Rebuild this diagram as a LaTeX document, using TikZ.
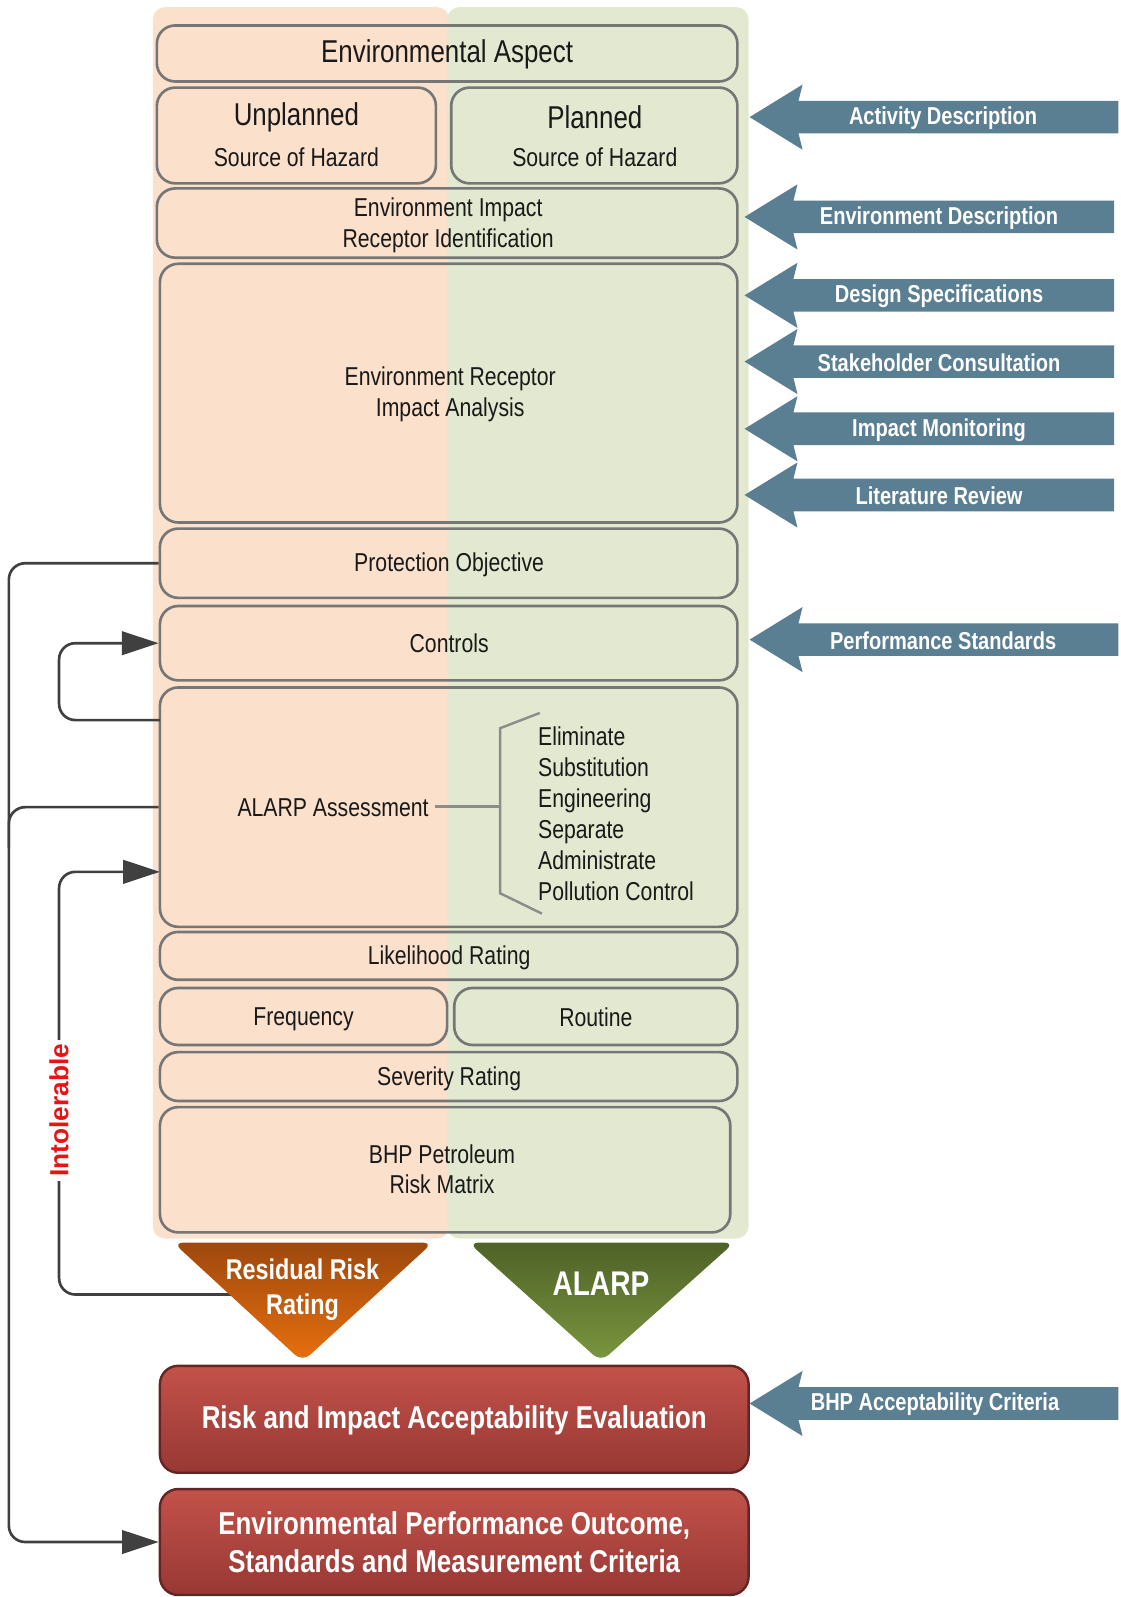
\documentclass[tikz,border=0pt]{standalone}
\usepackage{fontspec}
\setmainfont[FakeStretch=0.82]{Liberation Sans}
\newfontfamily\plainsans{Liberation Sans}
\usetikzlibrary{fit,arrows.meta,calc}
\definecolor{panelO}{RGB}{251,224,204}
\definecolor{panelG}{RGB}{226,233,208}
\definecolor{boxgray}{RGB}{118,118,118}
\definecolor{conngray}{RGB}{64,64,64}
\definecolor{arrblue}{RGB}{90,126,146}
\definecolor{redA}{RGB}{194,82,74}
\definecolor{redB}{RGB}{152,56,52}
\definecolor{redEdge}{RGB}{100,38,36}
\definecolor{orA}{RGB}{158,72,14}
\definecolor{orB}{RGB}{232,112,14}
\definecolor{grA}{RGB}{79,98,40}
\definecolor{grB}{RGB}{122,150,62}
\definecolor{brkcol}{RGB}{140,140,140}
\definecolor{intolred}{RGB}{232,20,20}
\newcommand\bluearrow[6]{%
  \fill[arrblue] (#2,#3) -- (#2+52,#3-32) -- (#2+48,#3-16) -- (#4,#3-16) -- (#4,#3+16) -- (#2+48,#3+16) -- (#2+52,#3+32) -- cycle;
  \node[arrtxt] (#1) at (#5,#3+1) {#6};}
\begin{document}
\begin{tikzpicture}[x=0.5pt,y=-0.5pt,
  box/.style={draw=boxgray, line width=1.3pt, rounded corners=9pt, inner sep=0pt},
  txt/.style={font=\fontsize{12.7}{15.2}\selectfont, align=center, inner sep=0pt, text=black!90},
  bigtxt/.style={font=\fontsize{15.5}{18}\selectfont, align=center, inner sep=0pt, text=black!90},
  redbox/.style={draw=redEdge, line width=1.2pt, rounded corners=9pt, inner sep=0pt, top color=redA, bottom color=redB},
  redtxt/.style={font=\bfseries\fontsize{15.5}{18.5}\selectfont, text=white, align=center, inner sep=0pt},
  tritxt/.style={font=\bfseries\fontsize{14}{17}\selectfont, text=white, align=center, inner sep=0pt},
  arrtxt/.style={font=\bfseries\fontsize{12}{14}\selectfont, text=white, inner sep=0pt},
  conn/.style={draw=conngray, line width=1.3pt, rounded corners=8pt},
  conntip/.style={-{Triangle[length=18pt,width=11.5pt]}},
  brkline/.style={draw=brkcol, line width=1.2pt},
]
\useasboundingbox (0,0) rectangle (1100,1568);
% background panels
\fill[panelO, rounded corners=6pt] (150,7) rectangle (441,1216);
\fill[panelG, rounded corners=6pt] (439,7) rectangle (735,1216);
% boxes
\node[box, fit={(154,25) (724,80)}] (aspect) {};
\node[bigtxt] (aspectT) at (439,53) {Environmental Aspect};
\node[box, fit={(154,86) (428,180)}] (unpl) {};
\node[bigtxt] (unplT) at (291,115) {Unplanned};
\node[txt] (unplS) at (291,154) {Source of Hazard};
\node[box, fit={(443,86) (724,180)}] (plan) {};
\node[bigtxt] (planT) at (584,115) {Planned};
\node[txt] (planS) at (584,154) {Source of Hazard};
\node[box, fit={(154,185) (724,253)}] (impid) {};
\node[txt] (impidT) at (440,221) {Environment Impact\\Receptor Identification};
\node[box, fit={(157,259) (724,513)}] (anal) {};
\node[txt] (analT) at (442,387) {Environment Receptor\\Impact Analysis};
\node[box, fit={(157,519) (724,587)}] (prot) {};
\node[txt] (protT) at (441,555) {Protection Objective};
\node[box, fit={(157,595) (724,668)}] (ctrl) {};
\node[txt] (ctrlT) at (441,632) {Controls};
\node[box, fit={(157,675) (724,910)}] (alarp) {};
\node[txt, outer sep=3pt] (alarpA) at (327,793) {ALARP Assessment};
\node[txt, align=left, anchor=west, font=\fontsize{12.7}{15.2}\selectfont] (alarpL) at (528,799) {Eliminate\\Substitution\\Engineering\\Separate\\Administrate\\Pollution Control};
\coordinate (brk) at (491,792);
\draw[brkline] (530,700) -- (491,715) -- (491,877) -- (532,897);
\draw[brkline] (alarpA.east |- brk) -- (brk);
\node[box, fit={(157,915) (724,962)}] (like) {};
\node[txt] (likeT) at (441,940) {Likelihood Rating};
\node[box, fit={(157,970) (439,1026)}] (freq) {};
\node[txt] (freqT) at (298,1001) {Frequency};
\node[box, fit={(446,970) (724,1026)}] (rout) {};
\node[txt] (routT) at (585,999) {Routine};
\node[box, fit={(157,1033) (724,1081)}] (sev) {};
\node[txt] (sevT) at (441,1059) {Severity Rating};
\node[box, fit={(157,1087) (717,1210)}] (mat) {};
\node[txt] (matT) at (434,1148) {BHP Petroleum\\Risk Matrix};
% red boxes
\node[redbox, fit={(157,1341) (735,1446)}] (rie) {};
\node[redtxt] (rieT) at ($(rie.center)+(0,1)$) {Risk and Impact Acceptability Evaluation};
\node[redbox, fit={(157,1462) (735,1566)}] (epo) {};
\node[redtxt] (epoT) at (epo.center) {Environmental Performance Outcome,\\Standards and Measurement Criteria};
% connectors
\coordinate (alarpLoop) at (157,707);
\coordinate (alarpIn) at (157,856);
\coordinate (rrEdge) at (236,1271);
\draw[conn, conntip] (prot.west) -- ++(-147,0) |- (epo.west);
\draw[conn] (alarp.west) -- ++(-147,0) -- ++(0,40);
\draw[conn, conntip] (alarpLoop) -- (58,707) -- (58,631.5) -- (ctrl.west);
\draw[conn, conntip] (rrEdge) -- (58,1271) -- (58,856) -- (alarpIn);
\node[font=\plainsans\bfseries\fontsize{12.9}{15}\selectfont, text=intolred, rotate=90, fill=white, inner sep=2pt] (intol) at (58,1090) {Intolerable};
% triangles
\shade[top color=orA, bottom color=orB, rounded corners=5pt] (170,1220) -- (425,1220) -- (297,1337) -- cycle;
\node[tritxt] (rrr) at (297,1266) {Residual Risk\\Rating};
\shade[top color=grA, bottom color=grB, rounded corners=5pt] (460,1220) -- (721,1220) -- (590,1337) -- cycle;
\node[font=\bfseries\fontsize{16.8}{20}\selectfont, text=white, inner sep=0pt] (alarpTri) at (590,1260) {ALARP};
% right arrows
\bluearrow{actdesc}{736}{115}{1098}{926}{Activity Description}
\bluearrow{envdesc}{731}{213}{1094}{922}{Environment Description}
\bluearrow{design}{731}{290}{1094}{922}{Design Specifications}
\bluearrow{stake}{731}{355}{1094}{922}{Stakeholder Consultation}
\bluearrow{impmon}{731}{421}{1094}{922}{Impact Monitoring}
\bluearrow{litrev}{731}{486}{1094}{922}{Literature Review}
\bluearrow{perf}{736}{628}{1098}{926}{Performance Standards}
\bluearrow{bhpacc}{736}{1378}{1098}{918}{BHP Acceptability Criteria}
\end{tikzpicture}
\end{document}
